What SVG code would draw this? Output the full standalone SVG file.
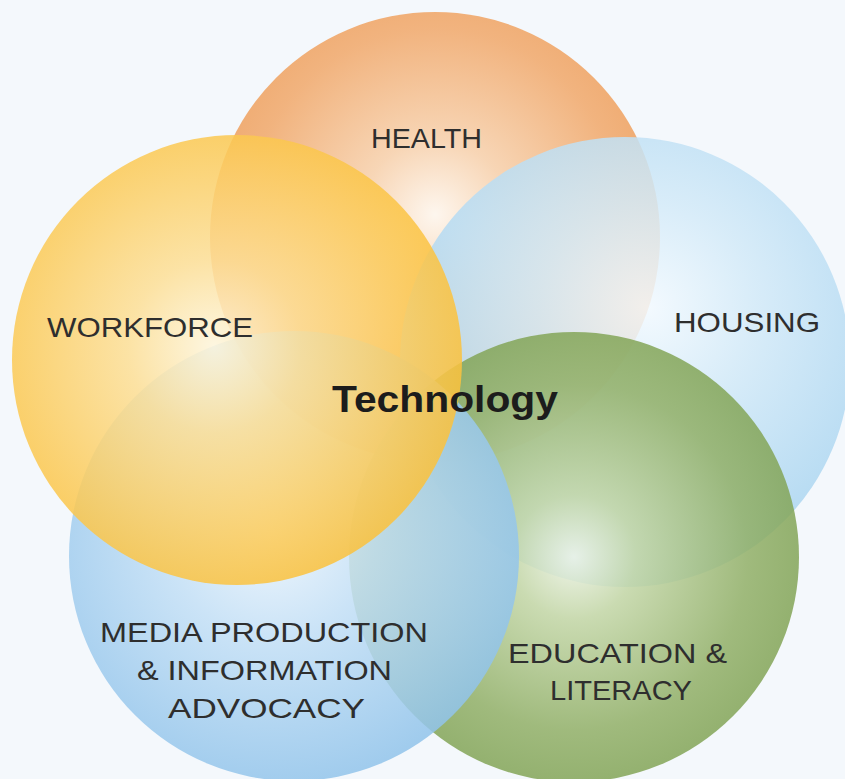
<svg xmlns="http://www.w3.org/2000/svg" width="845" height="779" viewBox="0 0 845 779">
<defs>
<style>
.c{opacity:0.86}
.t{font-family:"Liberation Sans","DejaVu Sans",sans-serif;font-size:28px;fill:#2e2e2e}
.tb{font-family:"Liberation Sans","DejaVu Sans",sans-serif;font-size:37px;font-weight:bold;fill:#1c1c1c}
</style>
<radialGradient id="gH" cx="0.5" cy="0.45" r="0.55">
<stop offset="0" stop-color="#fff6ec"/><stop offset="0.3" stop-color="#f8d0aa"/><stop offset="0.75" stop-color="#f1a86a"/><stop offset="1" stop-color="#ed9a54"/>
</radialGradient>
<radialGradient id="gW" cx="0.45" cy="0.47" r="0.55">
<stop offset="0" stop-color="#fff6dc"/><stop offset="0.35" stop-color="#fddf96"/><stop offset="1" stop-color="#fbc23e"/>
</radialGradient>
<radialGradient id="gHo" cx="0.55" cy="0.38" r="0.6">
<stop offset="0" stop-color="#f3faff"/><stop offset="0.4" stop-color="#d3eaf8"/><stop offset="1" stop-color="#a8d4f0"/>
</radialGradient>
<radialGradient id="gE" cx="0.5" cy="0.5" r="0.55">
<stop offset="0" stop-color="#eef4e6"/><stop offset="0.25" stop-color="#c3d6a5"/><stop offset="0.7" stop-color="#92b068"/><stop offset="1" stop-color="#7ea152"/>
</radialGradient>
<radialGradient id="gM" cx="0.45" cy="0.45" r="0.58">
<stop offset="0" stop-color="#eef6fd"/><stop offset="0.4" stop-color="#c4e0f6"/><stop offset="1" stop-color="#90c3ea"/>
</radialGradient>
</defs>
<rect width="845" height="779" fill="#f4f8fc"/>
<g id="health">
<circle class="c" cx="435" cy="237" r="225" fill="url(#gH)"/>
<text class="t" x="371" y="148" textLength="111" lengthAdjust="spacingAndGlyphs">HEALTH</text>
</g>
<g id="housing">
<circle class="c" cx="625" cy="362" r="225" fill="url(#gHo)"/>
<text class="t" x="674" y="332" textLength="146" lengthAdjust="spacingAndGlyphs">HOUSING</text>
</g>
<g id="education">
<circle class="c" cx="574" cy="557" r="225" fill="url(#gE)"/>
<text class="t" x="508" y="663" textLength="219" lengthAdjust="spacingAndGlyphs">EDUCATION &amp;</text>
<text class="t" x="550" y="700" textLength="142" lengthAdjust="spacingAndGlyphs">LITERACY</text>
</g>
<g id="media">
<circle class="c" cx="294" cy="556" r="225" fill="url(#gM)"/>
<text class="t" x="100" y="642" textLength="328" lengthAdjust="spacingAndGlyphs">MEDIA PRODUCTION</text>
<text class="t" x="137" y="680" textLength="255" lengthAdjust="spacingAndGlyphs">&amp; INFORMATION</text>
<text class="t" x="168" y="718" textLength="197" lengthAdjust="spacingAndGlyphs">ADVOCACY</text>
</g>
<g id="workforce">
<circle class="c" cx="237" cy="360" r="225" fill="url(#gW)"/>
<text class="t" x="47" y="337" textLength="206" lengthAdjust="spacingAndGlyphs">WORKFORCE</text>
</g>
<g id="technology">
<text class="tb" x="332" y="412" textLength="226" lengthAdjust="spacingAndGlyphs">Technology</text>
</g>
<g id="connectors"/>
</svg>
